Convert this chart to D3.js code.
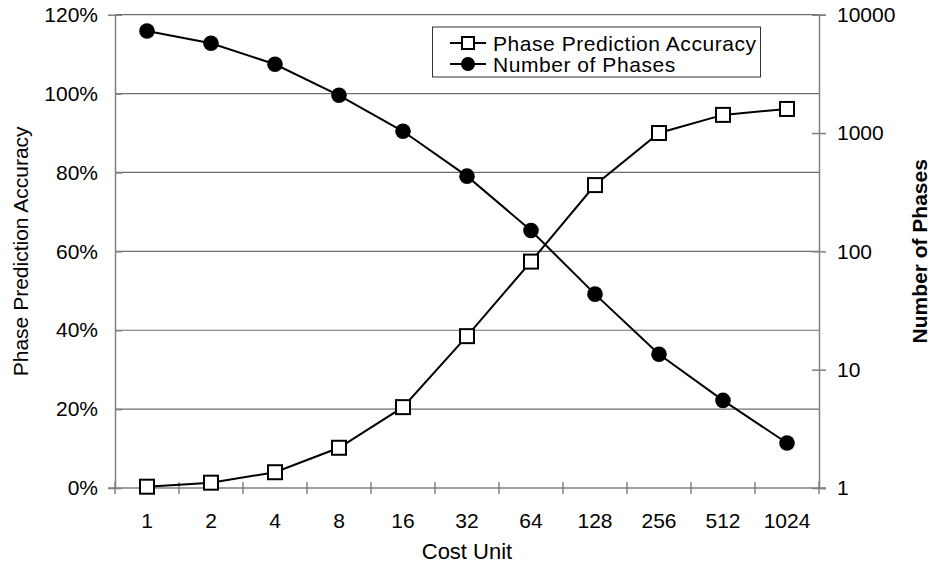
<!DOCTYPE html>
<html>
<head>
<meta charset="utf-8">
<script src="https://cdn.jsdelivr.net/npm/d3@7"></script>
<style>
  body { margin: 0; background: #fff; }
  svg text { font-family: "Liberation Sans", Arial, sans-serif; fill: #000; }
</style>
</head>
<body>
<svg id="chart" width="933" height="565"></svg>
<script>
// data
const costUnits = ["1", "2", "4", "8", "16", "32", "64", "128", "256", "512", "1024"];
const accuracy = [0.0033, 0.0135, 0.040, 0.102, 0.205, 0.385, 0.574, 0.768, 0.900, 0.946, 0.961];
const numPhases = [7280, 5730, 3810, 2085, 1035, 432, 150, 43.5, 13.5, 5.5, 2.4];
const pctTicks = [0, 0.2, 0.4, 0.6, 0.8, 1.0, 1.2];
const phaseTicks = [1, 10, 100, 1000, 10000];

const svg = d3.select("#chart");
const plotLeft = 115, plotRight = 819, plotTop = 14.7, plotBottom = 488;
const axisColor = "#808080";

const x = d3.scaleBand().domain(costUnits).range([plotLeft, plotRight]);
const xc = d => x(d) + x.bandwidth() / 2;
const yL = d3.scaleLinear().domain([0, 1.2]).range([plotBottom, plotTop]);
const yR = d3.scaleLog().domain([1, 10000]).range([plotBottom, plotTop]);

// gridlines
svg.append("g")
    .selectAll("line")
    .data(pctTicks.filter(d => d > 0))
    .enter()
    .append("line")
    .attr("x1", plotLeft).attr("x2", plotRight)
    .attr("y1", d => yL(d)).attr("y2", d => yL(d))
    .attr("stroke", "#6e6e6e")
    .attr("stroke-width", 1.2);

// left axis
const gL = svg.append("g")
    .attr("transform", `translate(${plotLeft},0)`)
    .call(d3.axisLeft(yL).tickValues(pctTicks).tickFormat(d3.format(".0%")).tickSize(7).tickPadding(10));
gL.selectAll(".tick line").attr("x2", 7);

// right axis
const gR = svg.append("g")
    .attr("transform", `translate(${plotRight},0)`)
    .call(d3.axisRight(yR).tickValues(phaseTicks).tickFormat(d3.format("d")).tickSize(7).tickPadding(11));
gR.selectAll(".tick line").attr("x1", -7);

// bottom axis: labels centered, ticks on band edges
const gB = svg.append("g")
    .attr("transform", `translate(0,${plotBottom})`)
    .call(d3.axisBottom(x).tickSize(0).tickPadding(25));
gB.select(".domain").remove();
const edges = d3.range(costUnits.length + 1).map(i => plotLeft + i * x.bandwidth());
gB.selectAll("line.edge")
    .data(edges)
    .enter()
    .append("line")
    .attr("class", "edge")
    .attr("x1", d => d).attr("x2", d => d)
    .attr("y1", -6).attr("y2", 6)
    .attr("stroke", axisColor)
    .attr("stroke-width", 1.5);
svg.append("line")
    .attr("x1", plotLeft - 7).attr("x2", plotRight + 7)
    .attr("y1", plotBottom).attr("y2", plotBottom)
    .attr("stroke", axisColor)
    .attr("stroke-width", 1.5);

[gL, gR, gB].forEach(g => {
    g.selectAll(".domain").attr("stroke", axisColor).attr("stroke-width", 1.5);
    g.selectAll(".tick line").attr("stroke", axisColor).attr("stroke-width", 1.5);
    g.selectAll(".tick text")
        .style("font-size", "21px")
        .style("font-family", "'Liberation Sans', Arial, sans-serif")
        .attr("fill", "#000");
});

// axis titles
svg.append("text")
    .attr("transform", `translate(28,${(plotTop + plotBottom) / 2}) rotate(-90)`)
    .attr("text-anchor", "middle")
    .style("font-size", "21px")
    .text("Phase Prediction Accuracy");

svg.append("text")
    .attr("transform", `translate(927,${(plotTop + plotBottom) / 2}) rotate(-90)`)
    .attr("text-anchor", "middle")
    .style("font-size", "21px")
    .style("font-weight", "bold")
    .text("Number of Phases");

svg.append("text")
    .attr("x", (plotLeft + plotRight) / 2)
    .attr("y", 559)
    .attr("text-anchor", "middle")
    .style("font-size", "22px")
    .text("Cost Unit");

// series lines
const accLine = d3.line().x((d, i) => xc(costUnits[i])).y(d => yL(d));
const phLine = d3.line().x((d, i) => xc(costUnits[i])).y(d => yR(d));

svg.append("path")
    .attr("d", phLine(numPhases))
    .attr("fill", "none")
    .attr("stroke", "#000")
    .attr("stroke-width", 2);

svg.append("path")
    .attr("d", accLine(accuracy))
    .attr("fill", "none")
    .attr("stroke", "#000")
    .attr("stroke-width", 2);

svg.append("g")
    .selectAll("circle")
    .data(numPhases)
    .enter()
    .append("circle")
    .attr("cx", (d, i) => xc(costUnits[i]))
    .attr("cy", d => yR(d))
    .attr("r", 7.8)
    .attr("fill", "#000");

const sq = 14;
svg.append("g")
    .selectAll("rect")
    .data(accuracy)
    .enter()
    .append("rect")
    .attr("x", (d, i) => xc(costUnits[i]) - sq / 2)
    .attr("y", d => yL(d) - sq / 2)
    .attr("width", sq).attr("height", sq)
    .attr("fill", "#fff")
    .attr("stroke", "#000")
    .attr("stroke-width", 2);

// legend
const legend = svg.append("g");
legend.append("rect")
    .attr("x", 432.5).attr("y", 27)
    .attr("width", 328).attr("height", 50)
    .attr("fill", "#fff")
    .attr("stroke", "#333")
    .attr("stroke-width", 1);

const legendItems = [
    {label: "Phase Prediction Accuracy", y: 43, shape: "square"},
    {label: "Number of Phases", y: 64, shape: "circle"}
];
legendItems.forEach(item => {
    legend.append("line")
        .attr("x1", 450).attr("x2", 486)
        .attr("y1", item.y).attr("y2", item.y)
        .attr("stroke", "#000").attr("stroke-width", 2);
    if (item.shape === "square") {
        legend.append("rect")
            .attr("x", 468 - 6).attr("y", item.y - 6)
            .attr("width", 12).attr("height", 12)
            .attr("fill", "#fff").attr("stroke", "#000").attr("stroke-width", 2);
    } else {
        legend.append("circle")
            .attr("cx", 468).attr("cy", item.y).attr("r", 7)
            .attr("fill", "#000");
    }
    legend.append("text")
        .attr("x", 493).attr("y", item.y + 7.5)
        .style("font-size", "21px")
        .style("letter-spacing", "0.55px")
        .text(item.label);
});
</script>
</body>
</html>
